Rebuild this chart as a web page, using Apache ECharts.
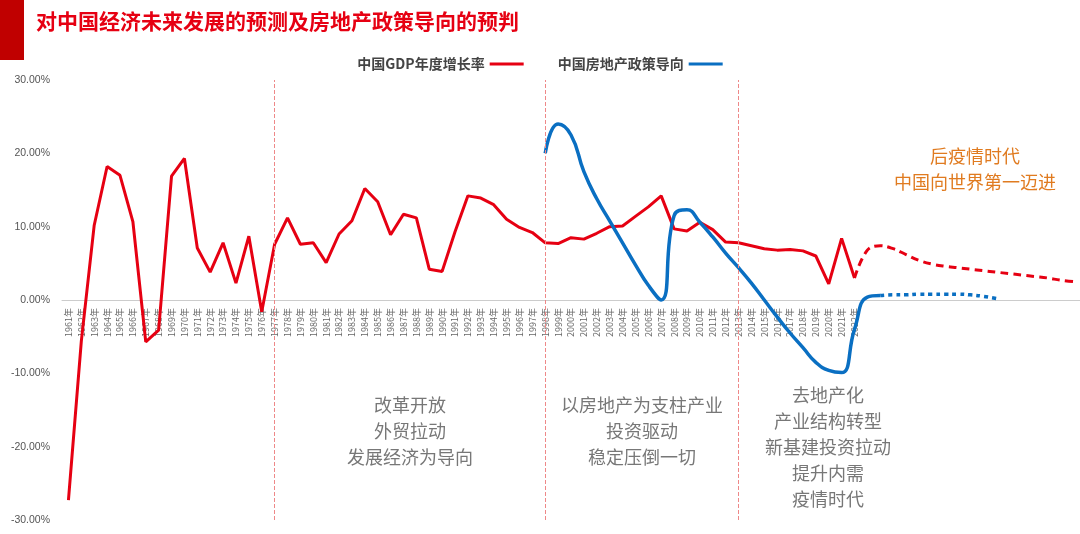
<!DOCTYPE html>
<html><head><meta charset="utf-8">
<script src="https://cdn.jsdelivr.net/npm/echarts@6/dist/echarts.min.js"></script>
<style>html,body{margin:0;padding:0;background:#fff}#c{width:1080px;height:534px}</style>
</head><body><div id="c"></div>
<script>
const years = [];
for (let y = 1961; y <= 2039; y++) years.push(y + '年');
const lastLabelYear = 2022;
const gdpActual = [-27.3,-5.6,10.2,18.2,17.0,10.7,-5.7,-4.1,16.9,19.3,7.1,3.8,7.8,2.3,8.7,-1.6,7.6,11.2,7.6,7.8,5.1,9.0,10.8,15.2,13.4,8.9,11.7,11.2,4.2,3.9,9.3,14.2,13.9,13.0,11.0,9.9,9.2,7.8,7.7,8.5,8.3,9.1,10.0,10.1,11.4,12.7,14.2,9.7,9.4,10.6,9.6,7.9,7.8,7.4,7.0,6.8,6.9,6.7,6.0,2.2,8.4,3.0];
const gdpForecast = [3.0,6.8,7.4,7.0,6.2,5.4,4.9,4.6,4.4,4.2,4.0,3.8,3.6,3.4,3.2,3.0,2.7,2.5];
const policyYears = [1998,1999,2000,2001,2002,2003,2004,2005,2006,2007,2008,2009,2010,2011,2012,2013,2014,2015,2016,2017,2018,2019,2020,2021,2022,2023,2024];
const policyValues = [20,24,22.5,17.5,13.8,10.8,7.8,4.8,2,0,11.5,12.3,10.6,8.6,6.4,4.4,2.3,0,-2.3,-4.5,-6.5,-8.5,-9.6,-9.9,-4,0.4,0.6];
const policyForecastYears = [2024,2025,2026,2027,2028,2029,2030,2031,2032,2033];
const policyForecast = [0.6,0.7,0.7,0.8,0.8,0.8,0.8,0.7,0.5,0.2];
const dividerYears = ['1977年','1998年','2013年'];

const idx = y => y - 1961;
function place(ys, vs){ const a = years.map(()=>null); ys.forEach((y,i)=>a[idx(y)]=vs[i]); return a; }
const gdpA = years.map((_,i)=> i<gdpActual.length ? gdpActual[i] : null);
const gdpF = place(years.slice(gdpActual.length-1).map(s=>parseInt(s)), gdpForecast);
const polA = place(policyYears, policyValues);
const polF = place(policyForecastYears, policyForecast);

const chart = echarts.init(document.getElementById('c'));
const txt = {fill:'#777', font:'18px "Noto Sans CJK SC"', textAlign:'center', lineHeight:26};
chart.setOption({
  animation:false,
  grid:{left:62, right:0, top:80, bottom:14, containLabel:false},
  legend:{top:52, left:'center', itemGap:34, align:'right', itemWidth:34, itemHeight:3,
    textStyle:{fontSize:14, color:'#444', fontWeight:'bold', fontFamily:'Noto Sans CJK SC'},
    data:[{name:'中国GDP年度增长率', icon:'rect'},{name:'中国房地产政策导向', icon:'rect'}]},
  xAxis:{type:'category', data:years, boundaryGap:true, offset:-220,
    axisLine:{onZero:false, lineStyle:{color:'#ccc'}}, axisTick:{show:false},
    axisLabel:{interval:0, rotate:90, fontSize:9, color:'#666', fontFamily:'Noto Sans CJK SC',
      formatter:v=> parseInt(v)<=lastLabelYear ? v : ''}},
  yAxis:{type:'value', min:-30, max:30, interval:10, splitLine:{show:false},
    axisLine:{show:false}, axisTick:{show:false},
    axisLabel:{fontSize:10.5, color:'#555', formatter:v=>v.toFixed(2)+'%', margin:12}},
  series:[
    {name:'中国GDP年度增长率', type:'line', data:gdpA, symbol:'none', color:'#e60012',
     lineStyle:{width:3, color:'#e60012'},
     markLine:{symbol:'none', silent:true, label:{show:false},
       lineStyle:{type:'dashed', color:'#e88', width:1},
       data:dividerYears.map(y=>({xAxis:y}))}},
    {name:'GDP预测', type:'line', data:gdpF, symbol:'none', smooth:0.4,
     lineStyle:{width:3, type:[8,5], color:'#e60012'}},
    {name:'中国房地产政策导向', type:'line', data:polA, symbol:'none', smooth:0.5, color:'#0a6fc2',
     lineStyle:{width:3.5, color:'#0a6fc2'}},
    {name:'政策预测', type:'line', data:polF, symbol:'none', smooth:0.4,
     lineStyle:{width:3.5, type:[4,4], color:'#0a6fc2'}}
  ],
  graphic:[
    {type:'rect', left:0, top:0, shape:{width:24, height:60}, style:{fill:'#c00000'}},
    {type:'text', left:36, top:11, style:{text:'对中国经济未来发展的预测及房地产政策导向的预判', fill:'#e60012', font:'bold 21px "Noto Sans CJK SC"'}},
    {type:'text', x:410, y:392, style:Object.assign({text:'改革开放\n外贸拉动\n发展经济为导向'}, txt)},
    {type:'text', x:642, y:392, style:Object.assign({text:'以房地产为支柱产业\n投资驱动\n稳定压倒一切'}, txt)},
    {type:'text', x:828, y:382, style:Object.assign({text:'去地产化\n产业结构转型\n新基建投资拉动\n提升内需\n疫情时代'}, txt)},
    {type:'text', x:975, y:143, style:{text:'后疫情时代\n中国向世界第一迈进', fill:'#e07b20', font:'18px "Noto Sans CJK SC"', textAlign:'center', lineHeight:26}}
  ]
});
</script></body></html>
